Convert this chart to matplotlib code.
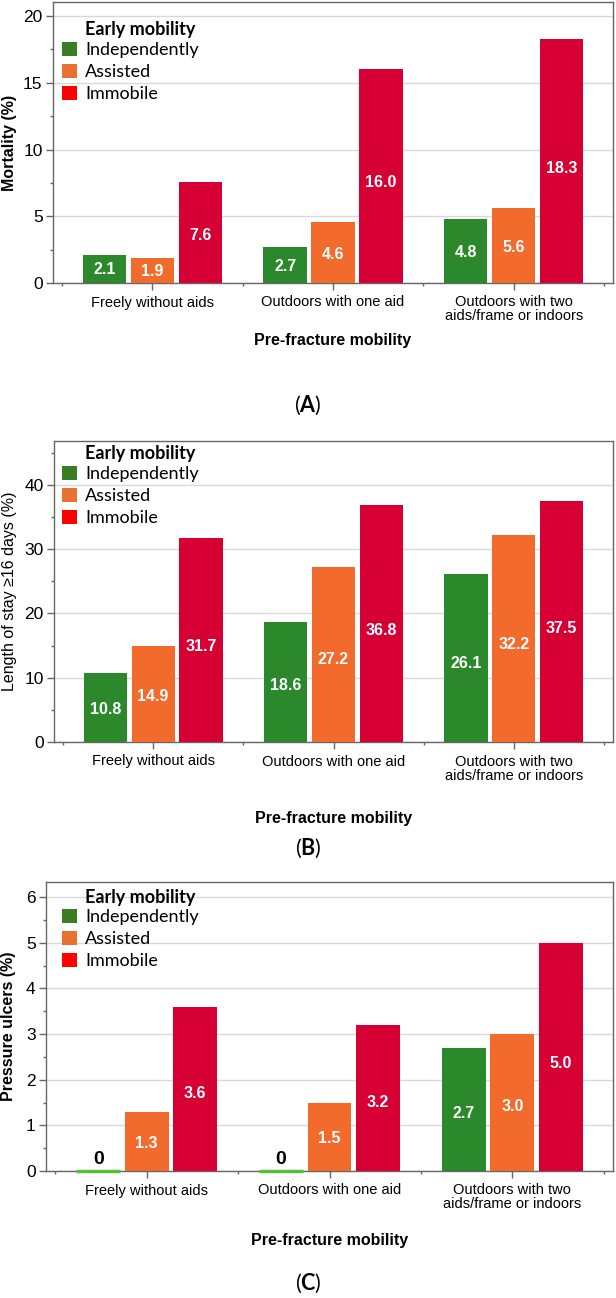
import matplotlib
matplotlib.use("Agg")
import matplotlib.pyplot as plt
from matplotlib.patches import Patch
import numpy as np

plt.rcParams['font.family'] = ['Liberation Sans', 'DejaVu Sans']
plt.rcParams['mathtext.fontset'] = 'custom'
plt.rcParams['mathtext.rm'] = 'Lato'
plt.rcParams['mathtext.bf'] = 'Lato:bold'

W, H = 616, 1298

groups = ["Freely without aids", "Outdoors with one aid",
          "Outdoors with two\naids/frame or indoors"]
series = ["Independently", "Assisted", "Immobile"]

# (A) mortality (%)
mort_indep = [2.1, 2.7, 4.8]
mort_assist = [1.9, 4.6, 5.6]
mort_immob = [7.6, 16.0, 18.3]

# (B) length of stay >= 16 days (%)
los_indep = [10.8, 18.6, 26.1]
los_assist = [14.9, 27.2, 32.2]
los_immob = [31.7, 36.8, 37.5]

# (C) pressure ulcers (%)
ulcer_indep = [0, 0, 2.7]
ulcer_assist = [1.3, 1.5, 3.0]
ulcer_immob = [3.6, 3.2, 5.0]

bar_colors = ['#2b892c', '#f26b2c', '#d70034']
legend_colors = ['#3a7d22', '#e97132', '#ff0000']
zero_color = '#5cbb3c'
frame_color = '#666666'

fig = plt.figure(figsize=(W / 100, H / 100), dpi=100)


def panel(box, ymax, step, values, ylabel, ybold, tag, tag_y,
          xlabel_y, ylabel_x, title_y, legend_top):
    left, top, right, bottom = box
    ax = fig.add_axes([left / W, 1 - bottom / H, (right - left) / W, (bottom - top) / H])
    pw, ph = right - left, bottom - top
    x = np.arange(len(groups))
    offsets = [-0.265, 0, 0.265]
    for vals, off, c in zip(values, offsets, bar_colors):
        bars = ax.bar(x + off, vals, width=0.24, color=c, zorder=3)
        for b, v in zip(bars, vals):
            xc = b.get_x() + b.get_width() / 2
            if v == 0:
                b.set_edgecolor(zero_color)
                b.set_linewidth(2.5)
                b.set_clip_on(False)
                b.set_zorder(4)
                ax.text(xc, ymax * 0.012, "0", ha='center', va='bottom',
                        fontsize=14, fontweight='bold', color='black', zorder=5)
            else:
                ax.text(xc, v * 0.47, f"{v:.1f}", ha='center', va='center',
                        fontsize=11.5, fontweight='bold', color='white', zorder=5)

    ax.set_xlim(-0.55, 2.55)
    ax.set_ylim(0, ymax)
    ax.set_yticks(np.arange(0, ymax, step))
    ax.set_yticks(np.arange(step / 2, ymax, step), minor=True)
    ax.set_xticks(x)
    ax.set_xticklabels(groups, fontsize=10.5, linespacing=1.0)
    ax.set_xticks([-0.5, 0.5, 1.5, 2.5], minor=True)
    ax.tick_params(axis='both', which='major', length=5, width=1, color=frame_color)
    ax.tick_params(axis='both', which='minor', length=2.5, width=1, color=frame_color)
    ax.tick_params(axis='y', labelsize=12.5, pad=2.5)
    ax.tick_params(axis='x', pad=4)
    ax.grid(axis='y', which='major', color='#d9d9d9', linewidth=1, zorder=0)
    ax.set_axisbelow(True)
    for s in ax.spines.values():
        s.set_color(frame_color)
        s.set_linewidth(1)

    ax.set_xlabel("Pre-fracture mobility", fontsize=11.5, fontweight='bold')
    ax.xaxis.label.set_va('center')
    ax.xaxis.set_label_coords(0.5, (bottom - xlabel_y) / ph)
    ax.set_ylabel(ylabel, fontsize=11.5, fontweight='bold' if ybold else 'normal')
    ax.yaxis.label.set_va('center')
    ax.yaxis.set_label_coords((ylabel_x - left) / pw, 0.5)

    handles = [Patch(facecolor=c) for c in legend_colors]
    ax.legend(handles, series, loc='upper left',
              bbox_to_anchor=((62 - left) / pw, 1 - (legend_top - top) / ph),
              frameon=False, borderpad=0, borderaxespad=0,
              handlelength=0.85, handleheight=0.85, handletextpad=0.42,
              labelspacing=0.3, prop={'family': 'Lato', 'size': 13})
    ax.text((85 - left) / pw, 1 - (title_y - top) / ph, "Early mobility",
            transform=ax.transAxes, ha='left', va='center',
            fontfamily='Lato', fontweight='bold', fontsize=13)

    fig.text(308 / W, 1 - tag_y / H, r"($\mathbf{" + tag + "}$)",
             ha='center', va='center', fontfamily='Lato', fontsize=15.5)
    return ax


panel((53, 2, 613, 283), 21.05, 5, [mort_indep, mort_assist, mort_immob],
      "Mortality (%)", True, "A", 405, 340, 10, 29, 42)
panel((54, 441, 613, 742), 46.8, 10, [los_indep, los_assist, los_immob],
      "Length of stay \u226516 days (%)", False, "B", 848, 818, 10, 453, 466)
panel((46, 882, 613, 1171), 6.33, 1, [ulcer_indep, ulcer_assist, ulcer_immob],
      "Pressure ulcers (%)", True, "C", 1283, 1240, 9, 897, 909)

fig.savefig("out.png", dpi=100)
